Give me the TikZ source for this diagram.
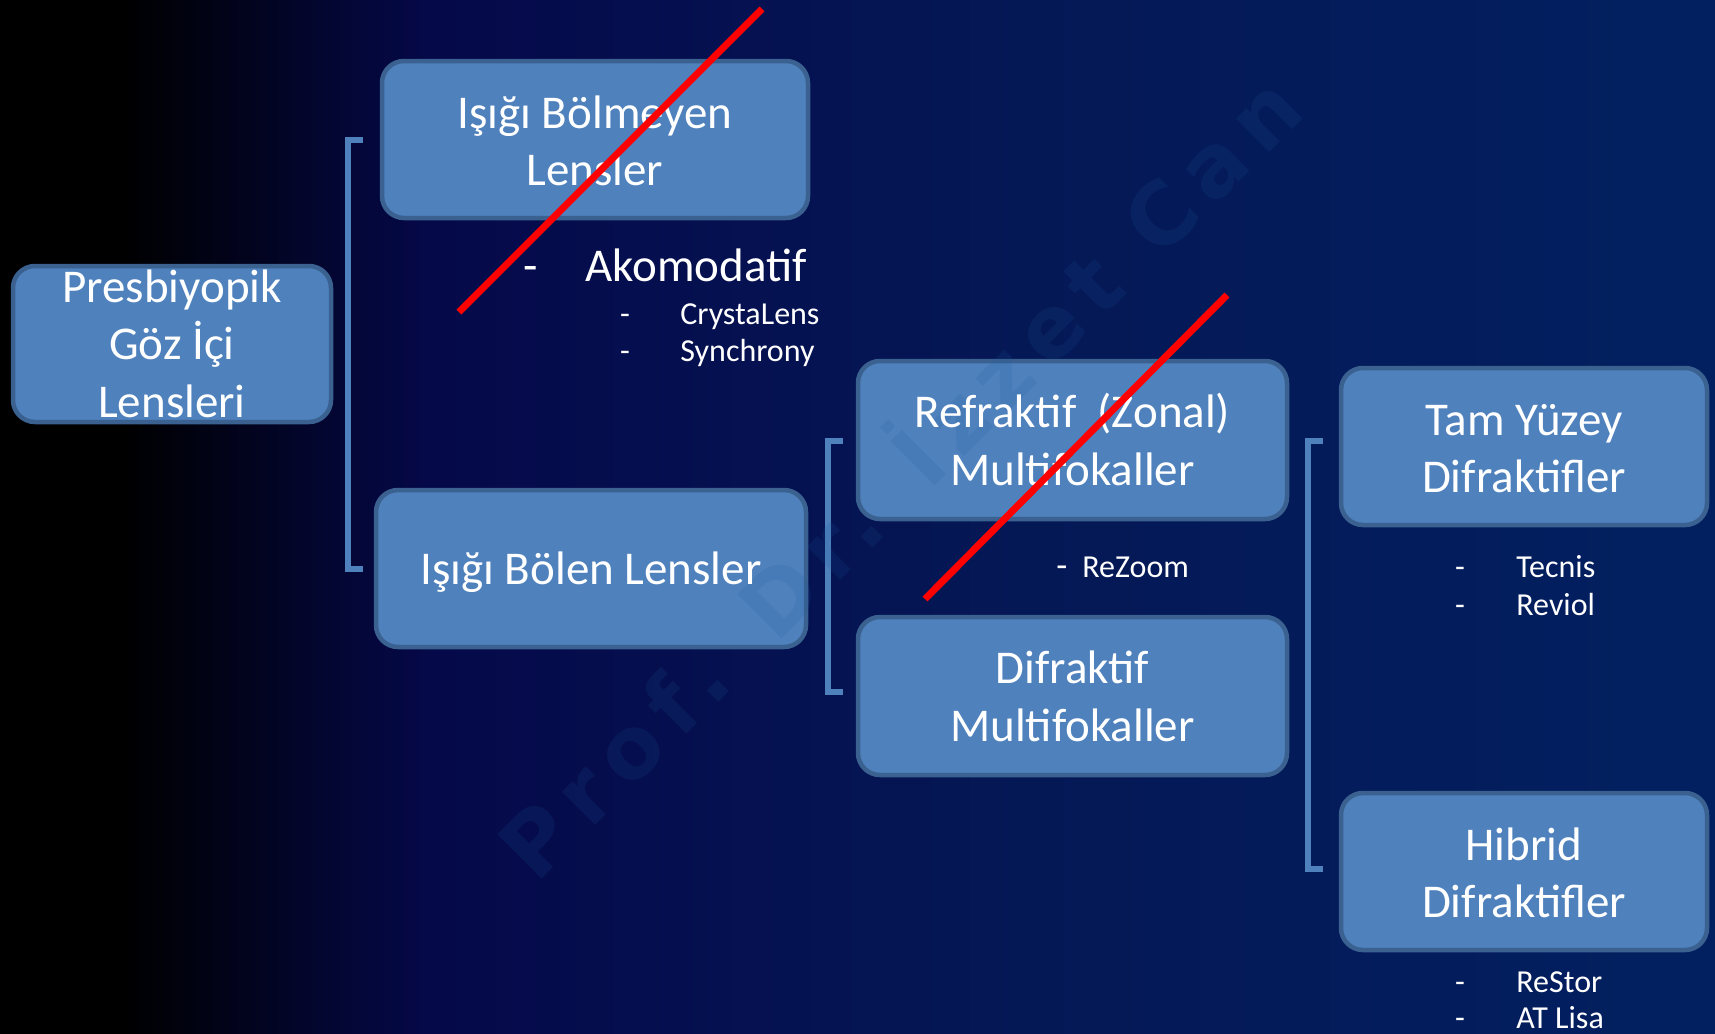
\documentclass[tikz,border=0pt]{standalone}
\usepackage{fontspec}
\setmainfont{Carlito}
\newfontfamily\wmfont[LetterSpace=15]{DejaVu Sans}
\definecolor{boxfill}{HTML}{4F81BD}
\definecolor{boxline}{HTML}{3B6191}
\definecolor{brk}{HTML}{4F81BD}
\definecolor{bgA}{HTML}{05094A}
\definecolor{bgB}{HTML}{051856}
\definecolor{bgC}{HTML}{022060}
\definecolor{wmcol}{HTML}{1F5C9C}
\pgfdeclarehorizontalshading{bgshade}{100bp}{color(0bp)=(black); color(25bp)=(black); color(28.5bp)=(black); color(37.7bp)=(bgA); color(55bp)=(bgB); color(75bp)=(bgC); color(100bp)=(bgC)}
\tikzset{
  lensbox/.style={draw=boxline, line width=2.25pt, fill=boxfill, rounded corners=11pt, inner sep=0pt},
  btext/.style={text=white, font=\fontsize{23.5}{29}\selectfont, anchor=base, inner sep=0pt},
  stext/.style={text=white, font=\fontsize{16}{19}\selectfont, anchor=base west, inner sep=0pt},
  sdash/.style={text=white, font=\fontsize{16}{19}\selectfont, anchor=base, inner sep=0pt},
  bracketline/.style={draw=brk, line width=3.25pt},
  crossout/.style={draw=red, line width=3.5pt},
  watermark/.style={text=wmcol, text opacity=0.15, font=\wmfont\bfseries\fontsize{43}{50}\selectfont, inner sep=0pt}
}
\begin{document}
\begin{tikzpicture}[x=0.5pt,y=-0.5pt]
\useasboundingbox (0,0) rectangle (1715,1034);
\fill[shading=bgshade] (0,0) rectangle (1715,1034);

% brackets
\draw[bracketline] (363,140) -- (348,140) -- (348,569) -- (363,569);
\draw[bracketline] (843,441) -- (828,441) -- (828,692) -- (843,692);
\draw[bracketline] (1323,441) -- (1308,441) -- (1308,869) -- (1323,869);

% boxes
\node[lensbox, minimum width=159pt, minimum height=78pt] (pres) at (172,344) {};
\node[lensbox, minimum width=213pt, minimum height=78.5pt] (bolmeyen) at (595,139.5) {};
\node[lensbox, minimum width=215pt, minimum height=78.5pt] (bolen) at (591,568.5) {};
\node[lensbox, minimum width=214.5pt, minimum height=79pt] (refr) at (1072.5,440) {};
\node[lensbox, minimum width=214.5pt, minimum height=79pt] (difr) at (1072.5,696) {};
\node[lensbox, minimum width=183pt, minimum height=78.5pt] (tam) at (1524,446.5) {};
\node[lensbox, minimum width=183pt, minimum height=78.5pt] (hibrid) at (1524,871.5) {};

% watermark
\node[watermark, rotate=45, anchor=base] (wm) at (922,499) {Prof. Dr. İzzet Can};

% box texts
\node[btext] (pres1) at (172,302) {Presbiyopik};
\node[btext] (pres2) at (172,359) {Göz İçi};
\node[btext] (pres3) at (172,417) {Lensleri};
\node[btext] (bm1) at (595,128) {Işığı Bölmeyen};
\node[btext] (bm2) at (595,185) {Lensler};
\node[btext] (bl1) at (591,584) {Işığı Bölen Lensler};
\node[btext] (rf1) at (1072.5,427) {Refraktif\ \ (Zonal)};
\node[btext] (rf2) at (1072.5,485) {Multifokaller};
\node[btext] (df1) at (1072.5,683) {Difraktif};
\node[btext] (df2) at (1072.5,741) {Multifokaller};
\node[btext] (tm1) at (1524,435) {Tam Yüzey};
\node[btext] (tm2) at (1524,492) {Difraktifler};
\node[btext] (hb1) at (1524,860) {Hibrid};
\node[btext] (hb2) at (1524,917) {Difraktifler};

% sub lists
\node[btext] (akd) at (531,281) {-};
\node[btext, anchor=base west] (ak) at (585,281) {Akomodatif};
\node[sdash] (cld) at (625,324) {-};
\node[stext] (cl) at (680,324) {CrystaLens};
\node[sdash] (syd) at (625,361) {-};
\node[stext] (sy) at (680,361) {Synchrony};
\node[sdash, font=\fontsize{18}{21}\selectfont] (rzd) at (1062,577) {-};
\node[stext] (rz) at (1082,577) {ReZoom};
\node[sdash] (ted) at (1460,577) {-};
\node[stext] (te) at (1516,577) {Tecnis};
\node[sdash] (rvd) at (1460,615) {-};
\node[stext] (rv) at (1516,615) {Reviol};
\node[sdash] (rsd) at (1460,992) {-};
\node[stext] (rs) at (1516,992) {ReStor};
\node[sdash] (atd) at (1460,1028) {-};
\node[stext] (at) at (1516,1028) {AT Lisa};

% cross-outs
\draw[crossout] (459,312) -- (762,9);
\draw[crossout] (925,599) -- (1227,295);
\end{tikzpicture}
\end{document}
